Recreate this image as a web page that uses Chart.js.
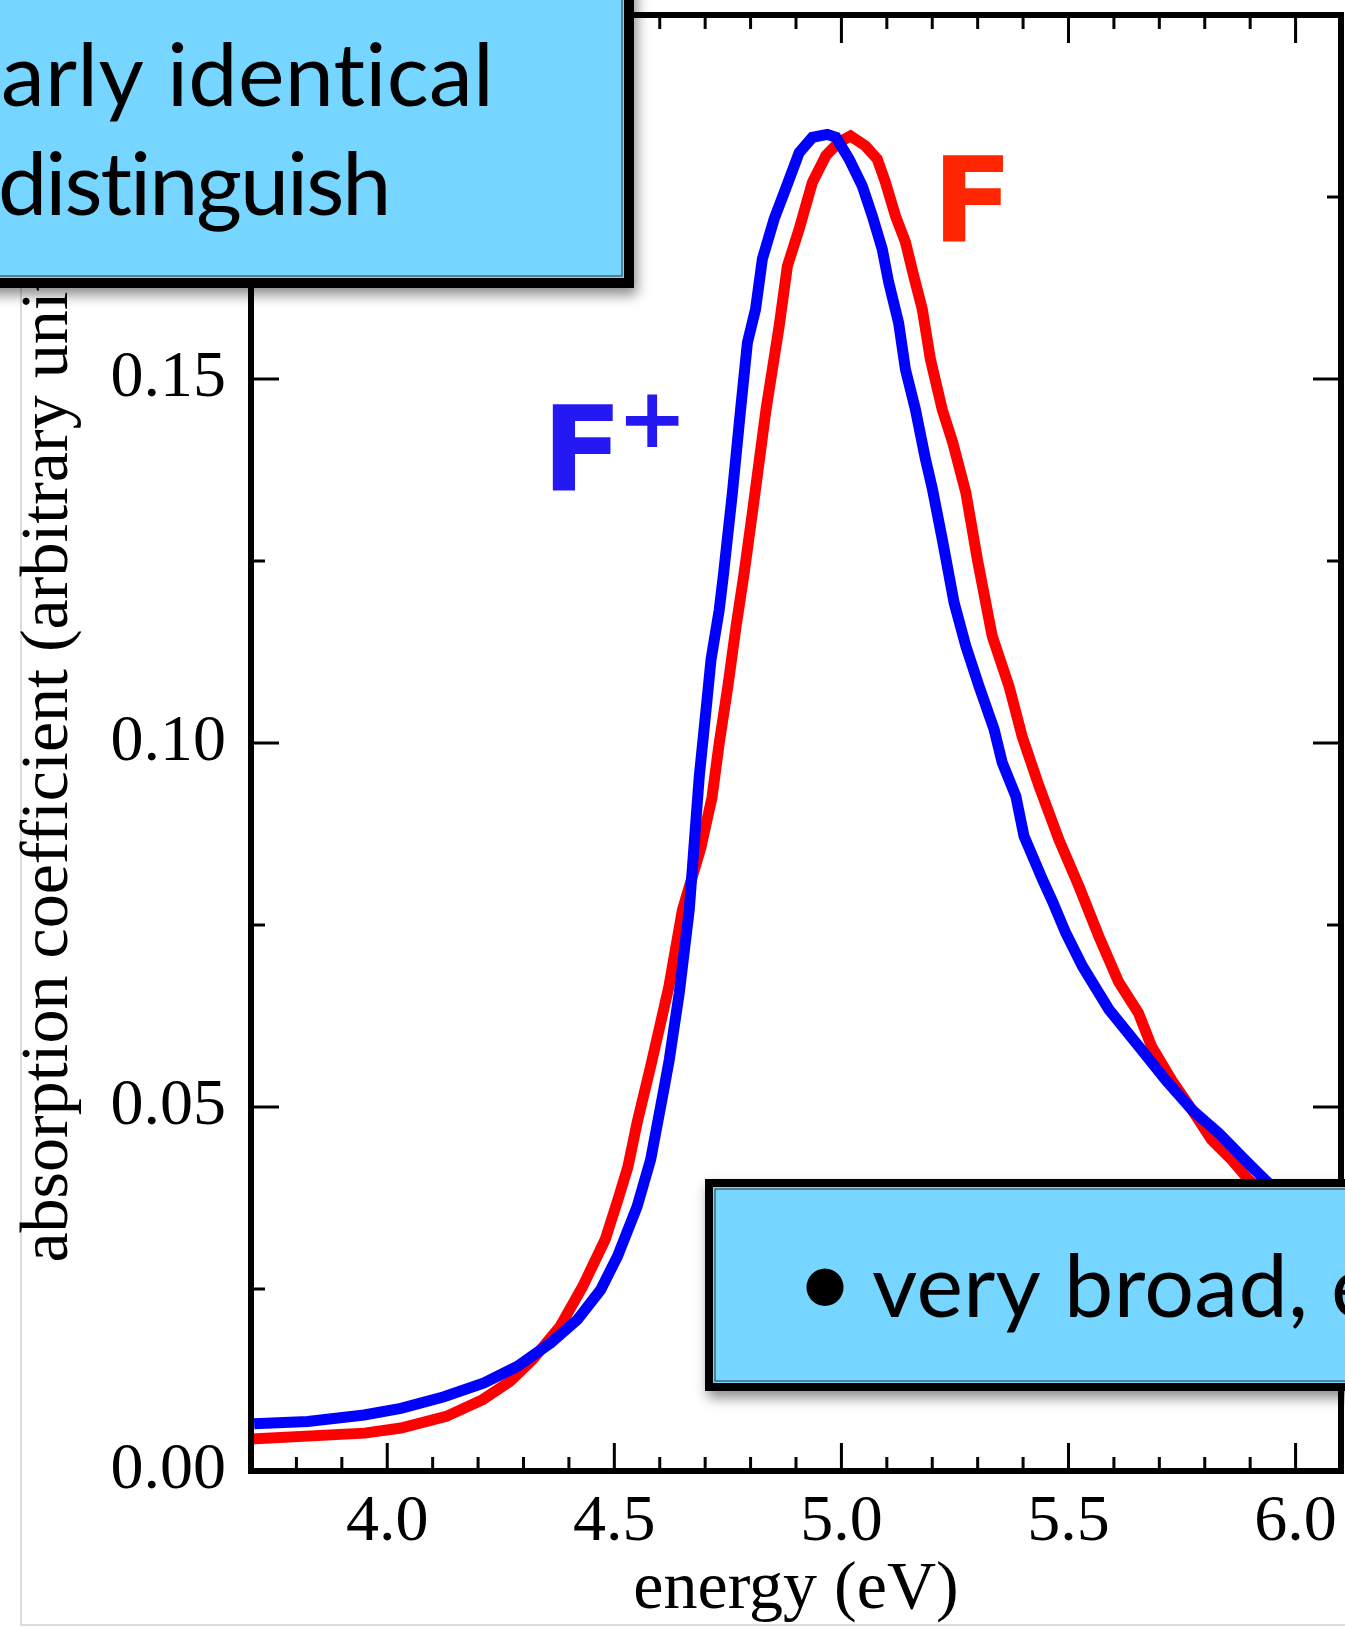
<!DOCTYPE html>
<html>
<head>
<meta charset="utf-8">
<title>F and F+ absorption bands</title>
<script src="https://cdn.jsdelivr.net/npm/chart.js@4.4.1/dist/chart.umd.min.js"></script>
<style>
  html, body { margin: 0; padding: 0; background: #fff; }
  canvas { display: block; }
</style>
</head>
<body>
<canvas id="absorption" width="1345" height="1627"></canvas>
<script>
// neutral F centre band (red)
var fEnergy = [3.70, 3.95, 4.03, 4.13, 4.21, 4.27, 4.32, 4.38, 4.43, 4.48, 4.51, 4.53, 4.55, 4.58,
  4.62, 4.65, 4.69, 4.715, 4.731, 4.75, 4.768, 4.785, 4.805, 4.834, 4.863, 4.881, 4.907, 4.936, 4.966,
  4.994, 5.02, 5.053, 5.079, 5.097, 5.119, 5.141, 5.159, 5.178, 5.196, 5.222, 5.245, 5.274, 5.30,
  5.332, 5.369, 5.398, 5.435, 5.479, 5.523, 5.567, 5.61, 5.654, 5.683, 5.727, 5.772, 5.815, 5.86,
  5.897, 5.95, 6.00, 6.10];
var fAbsorption = [0.0044, 0.0052, 0.0059, 0.0075, 0.0098, 0.0123, 0.0153, 0.0198, 0.0253, 0.0318,
  0.0377, 0.0418, 0.0478, 0.0556, 0.0665, 0.0771, 0.0855, 0.0925, 0.1000, 0.1078, 0.1160, 0.1230,
  0.1321, 0.1458, 0.1573, 0.1655, 0.1706, 0.1770, 0.1807, 0.1825, 0.1834, 0.1820, 0.1802, 0.1770,
  0.1724, 0.1688, 0.1642, 0.1596, 0.1527, 0.1458, 0.1413, 0.1344, 0.1250, 0.1147, 0.1078, 0.1009,
  0.0941, 0.0867, 0.0803, 0.0734, 0.0672, 0.0629, 0.0583, 0.0537, 0.0496, 0.0455, 0.0427, 0.0400,
  0.0370, 0.0340, 0.0290];

// F+ centre band (blue)
var fPlusEnergy = [3.707, 3.825, 3.949, 4.03, 4.125, 4.213, 4.287, 4.36, 4.419, 4.47, 4.507, 4.55,
  4.58, 4.609, 4.621, 4.643, 4.665, 4.676, 4.687, 4.702, 4.713, 4.731, 4.74, 4.76, 4.778, 4.793,
  4.811, 4.826, 4.852, 4.877, 4.907, 4.936, 4.969, 4.988, 5.017, 5.046, 5.068, 5.09, 5.104, 5.126,
  5.141, 5.163, 5.185, 5.20, 5.222, 5.248, 5.274, 5.303, 5.336, 5.354, 5.384, 5.402, 5.443, 5.465,
  5.494, 5.531, 5.589, 5.655, 5.714, 5.772, 5.831, 5.889, 5.933, 6.00, 6.10];
var fPlusAbsorption = [0.0065, 0.0068, 0.0077, 0.0086, 0.0102, 0.0121, 0.0144, 0.0176, 0.0208,
  0.0249, 0.0295, 0.0363, 0.0428, 0.0524, 0.0565, 0.0657, 0.0771, 0.0863, 0.0954, 0.1046, 0.1115,
  0.1183, 0.1230, 0.1344, 0.1458, 0.1550, 0.1596, 0.1665, 0.1720, 0.1761, 0.1811, 0.1832, 0.1836,
  0.1832, 0.1802, 0.1765, 0.1724, 0.1678, 0.1633, 0.1577, 0.1513, 0.1458, 0.1390, 0.1350, 0.1280,
  0.1193, 0.1133, 0.1078, 0.1019, 0.0973, 0.0927, 0.0872, 0.0812, 0.0782, 0.0739, 0.0693, 0.0634,
  0.0583, 0.0537, 0.0496, 0.0464, 0.0427, 0.0400, 0.0360, 0.0310];

var xTickValues = [4.0, 4.5, 5.0, 5.5, 6.0];
var yTickValues = [0.00, 0.05, 0.10, 0.15];

var SERIF = '"Liberation Serif", "Times New Roman", serif';
var SANS = 'Lato, "Open Sans", sans-serif';
var SKY = '#76d6ff';

function toPoints(xs, ys) {
  return xs.map(function (x, i) { return { x: x, y: ys[i] }; });
}

// keep the plot box fixed: no extra room for overhanging tick labels
function noLabelPadding(scale) {
  scale.paddingLeft = 0;
  scale.paddingRight = 0;
  scale.paddingTop = 0;
  scale.paddingBottom = 0;
}

// white page, faint slide edge, and the boxed frame with inward ticks
var framePlugin = {
  id: 'frame',
  beforeDraw: function (chart) {
    var ctx = chart.ctx;
    ctx.save();
    ctx.fillStyle = '#fff';
    ctx.fillRect(0, 0, chart.width, chart.height);
    ctx.strokeStyle = '#dcdcdc';
    ctx.lineWidth = 2;
    ctx.beginPath();
    ctx.moveTo(21, 0);
    ctx.lineTo(21, 1625);
    ctx.lineTo(chart.width, 1625);
    ctx.stroke();
    ctx.restore();
  },
  afterDatasetsDraw: function (chart) {
    var ctx = chart.ctx, a = chart.chartArea;
    var xs = chart.scales.x, ys = chart.scales.y;
    var k, v, p, len;
    ctx.save();
    ctx.strokeStyle = '#000';
    ctx.lineWidth = 3;
    ctx.beginPath();
    // energy ticks every 0.1, long ones every 0.5
    for (k = Math.ceil(xs.min * 10 - 1e-6); k <= Math.floor(xs.max * 10 + 1e-6); k++) {
      v = k / 10;
      p = xs.getPixelForValue(v);
      if (p < a.left + 4 || p > a.right - 4) continue;
      len = (k % 5 === 0) ? 28 : 14;
      ctx.moveTo(p, a.bottom); ctx.lineTo(p, a.bottom - len);
      ctx.moveTo(p, a.top); ctx.lineTo(p, a.top + len);
    }
    // absorption ticks every 0.025, long ones every 0.05
    for (k = Math.ceil(ys.min / 0.025 - 1e-6); k <= Math.floor(ys.max / 0.025 + 1e-6); k++) {
      v = k * 0.025;
      p = ys.getPixelForValue(v);
      if (p < a.top + 4 || p > a.bottom - 4) continue;
      len = (k % 2 === 0) ? 28 : 14;
      ctx.moveTo(a.left, p); ctx.lineTo(a.left + len, p);
      ctx.moveTo(a.right, p); ctx.lineTo(a.right - len, p);
    }
    ctx.stroke();
    ctx.lineWidth = 6;
    ctx.strokeRect(a.left, a.top, a.right - a.left, a.bottom - a.top);
    ctx.restore();
  }
};

// series names placed next to their curves
var curveLabels = [
  { text: 'F', sup: '', energy: 5.222, value: 0.169, color: '#ff2600' },
  { text: 'F', sup: '+', energy: 4.363, value: 0.1348, color: '#2419f2' }
];

var curveLabelPlugin = {
  id: 'curveLabels',
  afterDatasetsDraw: function (chart) {
    var ctx = chart.ctx, xs = chart.scales.x, ys = chart.scales.y;
    ctx.save();
    ctx.textBaseline = 'alphabetic';
    ctx.textAlign = 'left';
    curveLabels.forEach(function (lab) {
      var x = xs.getPixelForValue(lab.energy);
      var y = ys.getPixelForValue(lab.value);
      ctx.fillStyle = lab.color;
      ctx.font = 'bold 118px "DejaVu Sans", sans-serif';
      var m = ctx.measureText(lab.text);
      ctx.fillText(lab.text, x + m.actualBoundingBoxLeft, y);
      if (lab.sup) {
        ctx.font = 'bold 84px "DejaVu Sans", sans-serif';
        var s = ctx.measureText(lab.sup);
        var left = x + m.actualBoundingBoxLeft + m.actualBoundingBoxRight + 12;
        var cy = y - 69;
        ctx.fillText(lab.sup, left + s.actualBoundingBoxLeft,
          cy + (s.actualBoundingBoxAscent - s.actualBoundingBoxDescent) / 2);
      }
    });
    ctx.restore();
  }
};

// sky-blue slide call-outs laid over the plot
function drawCallout(ctx, x, y, w, h, border) {
  ctx.save();
  ctx.shadowColor = 'rgba(0, 0, 0, 0.45)';
  ctx.shadowBlur = 12;
  ctx.shadowOffsetX = 3;
  ctx.shadowOffsetY = 7;
  ctx.fillStyle = '#000';
  ctx.fillRect(x - border / 2, y - border / 2, w + border, h + border);
  ctx.restore();
  ctx.save();
  ctx.fillStyle = SKY;
  ctx.fillRect(x + border / 2, y + border / 2, w - border, h - border);
  ctx.strokeStyle = '#000';
  ctx.lineWidth = border;
  ctx.strokeRect(x, y, w, h);
  // pencil-like inner edge
  ctx.strokeStyle = 'rgba(40, 40, 40, 0.8)';
  ctx.lineWidth = 1.2;
  ctx.strokeRect(x + border / 2 + 2, y + border / 2 + 2, w - border - 4, h - border - 4);
  ctx.restore();
}

var calloutPlugin = {
  id: 'callouts',
  afterDraw: function (chart) {
    var ctx = chart.ctx;
    drawCallout(ctx, -40, -40, 669, 323, 10);
    drawCallout(ctx, 709, 1183, 700, 204, 8);
    ctx.save();
    ctx.fillStyle = '#000';
    ctx.textAlign = 'left';
    ctx.textBaseline = 'alphabetic';
    ctx.font = '88px ' + SANS;
    ctx.letterSpacing = '0.3px';
    ctx.fillText('arly identical', 1, 106);
    ctx.letterSpacing = '-2px';
    ctx.fillText('distinguish', -2, 215);
    ctx.letterSpacing = '0.3px';
    ctx.fillText('very broad, e', 872, 1317);
    ctx.letterSpacing = '0px';
    ctx.font = '100px ' + SANS;
    var b = ctx.measureText('\u2022');
    ctx.fillText('\u2022',
      825 - (b.actualBoundingBoxRight - b.actualBoundingBoxLeft) / 2,
      1287 + (b.actualBoundingBoxAscent - b.actualBoundingBoxDescent) / 2);
    ctx.restore();
  }
};

var ctx = document.getElementById('absorption').getContext('2d');
var chart = new Chart(ctx, {
  type: 'line',
  data: {
    datasets: [{
      label: 'F+',
      data: toPoints(fPlusEnergy, fPlusAbsorption),
      borderColor: '#0000ff',
      borderWidth: 11,
      pointRadius: 0,
      tension: 0,
      fill: false,
      order: 0
    }, {
      label: 'F',
      data: toPoints(fEnergy, fAbsorption),
      borderColor: '#ff0000',
      borderWidth: 11,
      pointRadius: 0,
      tension: 0,
      fill: false,
      order: 1
    }]
  },
  options: {
    responsive: false,
    animation: false,
    devicePixelRatio: 1,
    layout: { padding: { top: 15, right: 4, left: 0, bottom: 0 } },
    plugins: {
      legend: { display: false },
      tooltip: { enabled: false }
    },
    scales: {
      x: {
        type: 'linear',
        min: 3.7,
        max: 6.1,
        afterBuildTicks: function (scale) {
          scale.ticks = xTickValues.map(function (v) { return { value: v }; });
        },
        afterFit: function (scale) {
          scale.height = 156;
          noLabelPadding(scale);
        },
        grid: { display: false, drawTicks: false },
        border: { display: false },
        ticks: {
          autoSkip: false,
          maxRotation: 0,
          padding: 12,
          color: '#000',
          font: { family: SERIF, size: 66 },
          callback: function (v) { return Number(v).toFixed(1); }
        },
        title: {
          display: true,
          text: 'energy (eV)',
          color: '#000',
          font: { family: SERIF, size: 68, lineHeight: 1 },
          padding: { top: 0, bottom: 3 }
        }
      },
      y: {
        type: 'linear',
        min: 0,
        max: 0.2,
        afterBuildTicks: function (scale) {
          scale.ticks = yTickValues.map(function (v) { return { value: v }; });
        },
        afterFit: function (scale) {
          scale.width = 251;
          noLabelPadding(scale);
        },
        grid: { display: false, drawTicks: false },
        border: { display: false },
        ticks: {
          autoSkip: false,
          padding: 25,
          color: '#000',
          font: { family: SERIF, size: 66 },
          callback: function (v) { return Number(v).toFixed(2); }
        },
        title: {
          display: true,
          text: 'absorption coefficient (arbitrary units)',
          color: '#000',
          font: { family: SERIF, size: 68, lineHeight: 1 },
          padding: { top: 15, bottom: 0 }
        }
      }
    }
  },
  plugins: [framePlugin, curveLabelPlugin, calloutPlugin]
});
</script>
</body>
</html>
